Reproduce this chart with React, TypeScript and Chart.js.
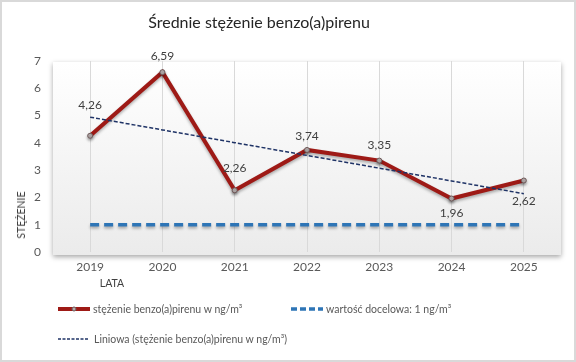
import React, { useEffect, useRef } from "react";
import { Chart, registerables } from "chart.js";

Chart.register(...registerables);

const FONT = "Lato, 'Open Sans', sans-serif";

// ---- data ----
const years = ["2019", "2020", "2021", "2022", "2023", "2024", "2025"];
const concentration = [4.26, 6.59, 2.26, 3.74, 3.35, 1.96, 2.62];
const targetValue = [1, 1, 1, 1, 1, 1, 1];
const yMin = 0;
const yMax = 7;
const yStep = 1;

// ---- style: data label vertical offsets (px) ----
const labelOffsets = [-31, -16, -22, -14, -15, 15, 21];

// linear trend (least squares) of the concentration series, like Excel's "Liniowa"
function linearTrend(values: number[]): number[] {
  const n = values.length;
  const mx = (n - 1) / 2;
  const my = values.reduce((a, b) => a + b, 0) / n;
  let num = 0;
  let den = 0;
  values.forEach((v, i) => {
    num += (i - mx) * (v - my);
    den += (i - mx) * (i - mx);
  });
  const slope = num / den;
  return values.map((_, i) => my + slope * (i - mx));
}
const trend = linearTrend(concentration);

const fmt = (v: number) => v.toFixed(2).replace(".", ",");

const plotBgPlugin = {
  id: "plotBg",
  beforeDraw(chart: any) {
    const { ctx, chartArea } = chart;
    const l = chartArea.left - 1;
    const t = chartArea.top + 1;
    const w = chartArea.right - chartArea.left + 2;
    const h = chartArea.bottom - chartArea.top + 2;
    ctx.save();
    ctx.fillStyle = "#ffffff";
    ctx.fillRect(0, 0, chart.width, chart.height);
    const g = ctx.createLinearGradient(0, t, 0, t + h);
    g.addColorStop(0, "#ffffff");
    g.addColorStop(1, "#ebebeb");
    ctx.shadowColor = "rgba(0,0,0,0.35)";
    ctx.shadowBlur = 5;
    ctx.shadowOffsetX = 0;
    ctx.shadowOffsetY = 2;
    ctx.fillStyle = g;
    ctx.fillRect(l, t, w, h);
    ctx.restore();
  },
  beforeDatasetDraw(chart: any, args: any) {
    const ctx = chart.ctx;
    ctx.save();
    if (args.index === 0 || args.index === 1) {
      ctx.shadowColor = "rgba(0,0,0,0.3)";
      ctx.shadowBlur = 3;
      ctx.shadowOffsetX = 0;
      ctx.shadowOffsetY = 2;
    }
  },
  afterDatasetDraw(chart: any) {
    chart.ctx.restore();
  },
  afterDatasetsDraw(chart: any) {
    const { ctx } = chart;
    const meta = chart.getDatasetMeta(0);
    ctx.save();
    ctx.font = `12px ${FONT}`;
    ctx.fillStyle = "#404040";
    ctx.textAlign = "center";
    ctx.textBaseline = "middle";
    meta.data.forEach((pt: any, i: number) => {
      ctx.fillText(fmt(concentration[i]), pt.x, pt.y + labelOffsets[i]);
    });
    ctx.restore();
  },
};

export default function App() {
  const ref = useRef<HTMLCanvasElement>(null);

  useEffect(() => {
    document.body.style.margin = "0";
    const chart = new Chart(ref.current!, {
      type: "line",
      data: {
        labels: years,
        datasets: [
          {
            label: "stężenie benzo(a)pirenu w ng/m³",
            data: concentration,
            borderColor: "#9e1a16",
            borderWidth: 4,
            pointRadius: 2.5,
            pointBackgroundColor: "#b8b0b0",
            pointBorderColor: "#6f5a5a",
            pointBorderWidth: 1,
            tension: 0,
            order: 1,
          },
          {
            label: "wartość docelowa: 1 ng/m³",
            data: targetValue,
            borderColor: "#2e75b6",
            borderWidth: 3.5,
            borderDash: [9, 5],
            pointRadius: 0,
            order: 2,
          },
          {
            label: "Liniowa (stężenie benzo(a)pirenu w ng/m³)",
            data: trend,
            borderColor: "#1f3366",
            borderWidth: 1.5,
            borderDash: [4, 2],
            pointRadius: 0,
            order: 0,
          },
        ],
      },
      options: {
        responsive: false,
        animation: false,
        layout: { padding: { top: 61, right: 16, bottom: 80, left: 0 } },
        plugins: {
          legend: { display: false },
          title: { display: false },
          tooltip: { enabled: false },
        },
        scales: {
          x: {
            offset: true,
            grid: { display: true, offset: false, color: "#d9d9d9", drawTicks: false },
            border: { display: false },
            ticks: { color: "#595959", font: { family: FONT, size: 12 }, padding: 8 },
            afterFit(scale: any) {
              scale.height = 30;
            },
          },
          y: {
            min: yMin,
            max: yMax,
            grid: { display: false, drawTicks: false },
            border: { display: false },
            ticks: { stepSize: yStep, color: "#595959", font: { family: FONT, size: 12 }, padding: 13 },
            afterFit(scale: any) {
              scale.width = 54;
            },
          },
        },
      },
      plugins: [plotBgPlugin],
    });
    return () => chart.destroy();
  }, []);

  const legendText: React.CSSProperties = {
    position: "absolute",
    fontSize: 10.5,
    color: "#595959",
    lineHeight: "14px",
    whiteSpace: "nowrap",
  };

  return (
    <div
      style={{
        position: "relative",
        width: 576,
        height: 362,
        background: "#fff",
        fontFamily: FONT,
        overflow: "hidden",
      }}
    >
      <canvas ref={ref} width={576} height={362} style={{ position: "absolute", left: 0, top: 0 }} />
      <div
        style={{
          position: "absolute",
          left: 259,
          top: 11,
          transform: "translateX(-50%)",
          fontSize: 16,
          lineHeight: "22px",
          color: "#262626",
          whiteSpace: "nowrap",
        }}
      >
        Średnie stężenie benzo(a)pirenu
      </div>
      <div
        style={{
          position: "absolute",
          left: 21,
          top: 215,
          transform: "translate(-50%, -50%) rotate(-90deg)",
          fontSize: 10.5,
          fontWeight: 400,
          color: "#404040",
          whiteSpace: "nowrap",
        }}
      >
        STĘŻENIE
      </div>
      <div
        style={{
          position: "absolute",
          left: 112,
          top: 283,
          transform: "translate(-50%, -50%)",
          fontSize: 10.5,
          color: "#404040",
          whiteSpace: "nowrap",
        }}
      >
        LATA
      </div>

      {/* legend */}
      <svg width={576} height={362} style={{ position: "absolute", left: 0, top: 0 }}>
        <line x1={58} y1={309} x2={90} y2={309} stroke="#9e1a16" strokeWidth={4} />
        <circle cx={74} cy={309} r={2} fill="#b8b0b0" stroke="#6f5a5a" strokeWidth={1} />
        <line x1={291} y1={309} x2={323} y2={309} stroke="#2e75b6" strokeWidth={3.5} strokeDasharray="6 3" />
        <line x1={58} y1={339} x2={89} y2={339} stroke="#1f3366" strokeWidth={1.3} strokeDasharray="3 1.5" />
      </svg>
      <div style={{ ...legendText, left: 93, top: 302 }}>stężenie benzo(a)pirenu w ng/m³</div>
      <div style={{ ...legendText, left: 326, top: 302 }}>wartość docelowa: 1 ng/m³</div>
      <div style={{ ...legendText, left: 94, top: 332 }}>Liniowa (stężenie benzo(a)pirenu w ng/m³)</div>

      <div
        style={{
          position: "absolute",
          left: 0,
          top: 0,
          width: 576,
          height: 362,
          boxSizing: "border-box",
          border: "2px solid #d9d9d9",
          pointerEvents: "none",
        }}
      />
    </div>
  );
}
